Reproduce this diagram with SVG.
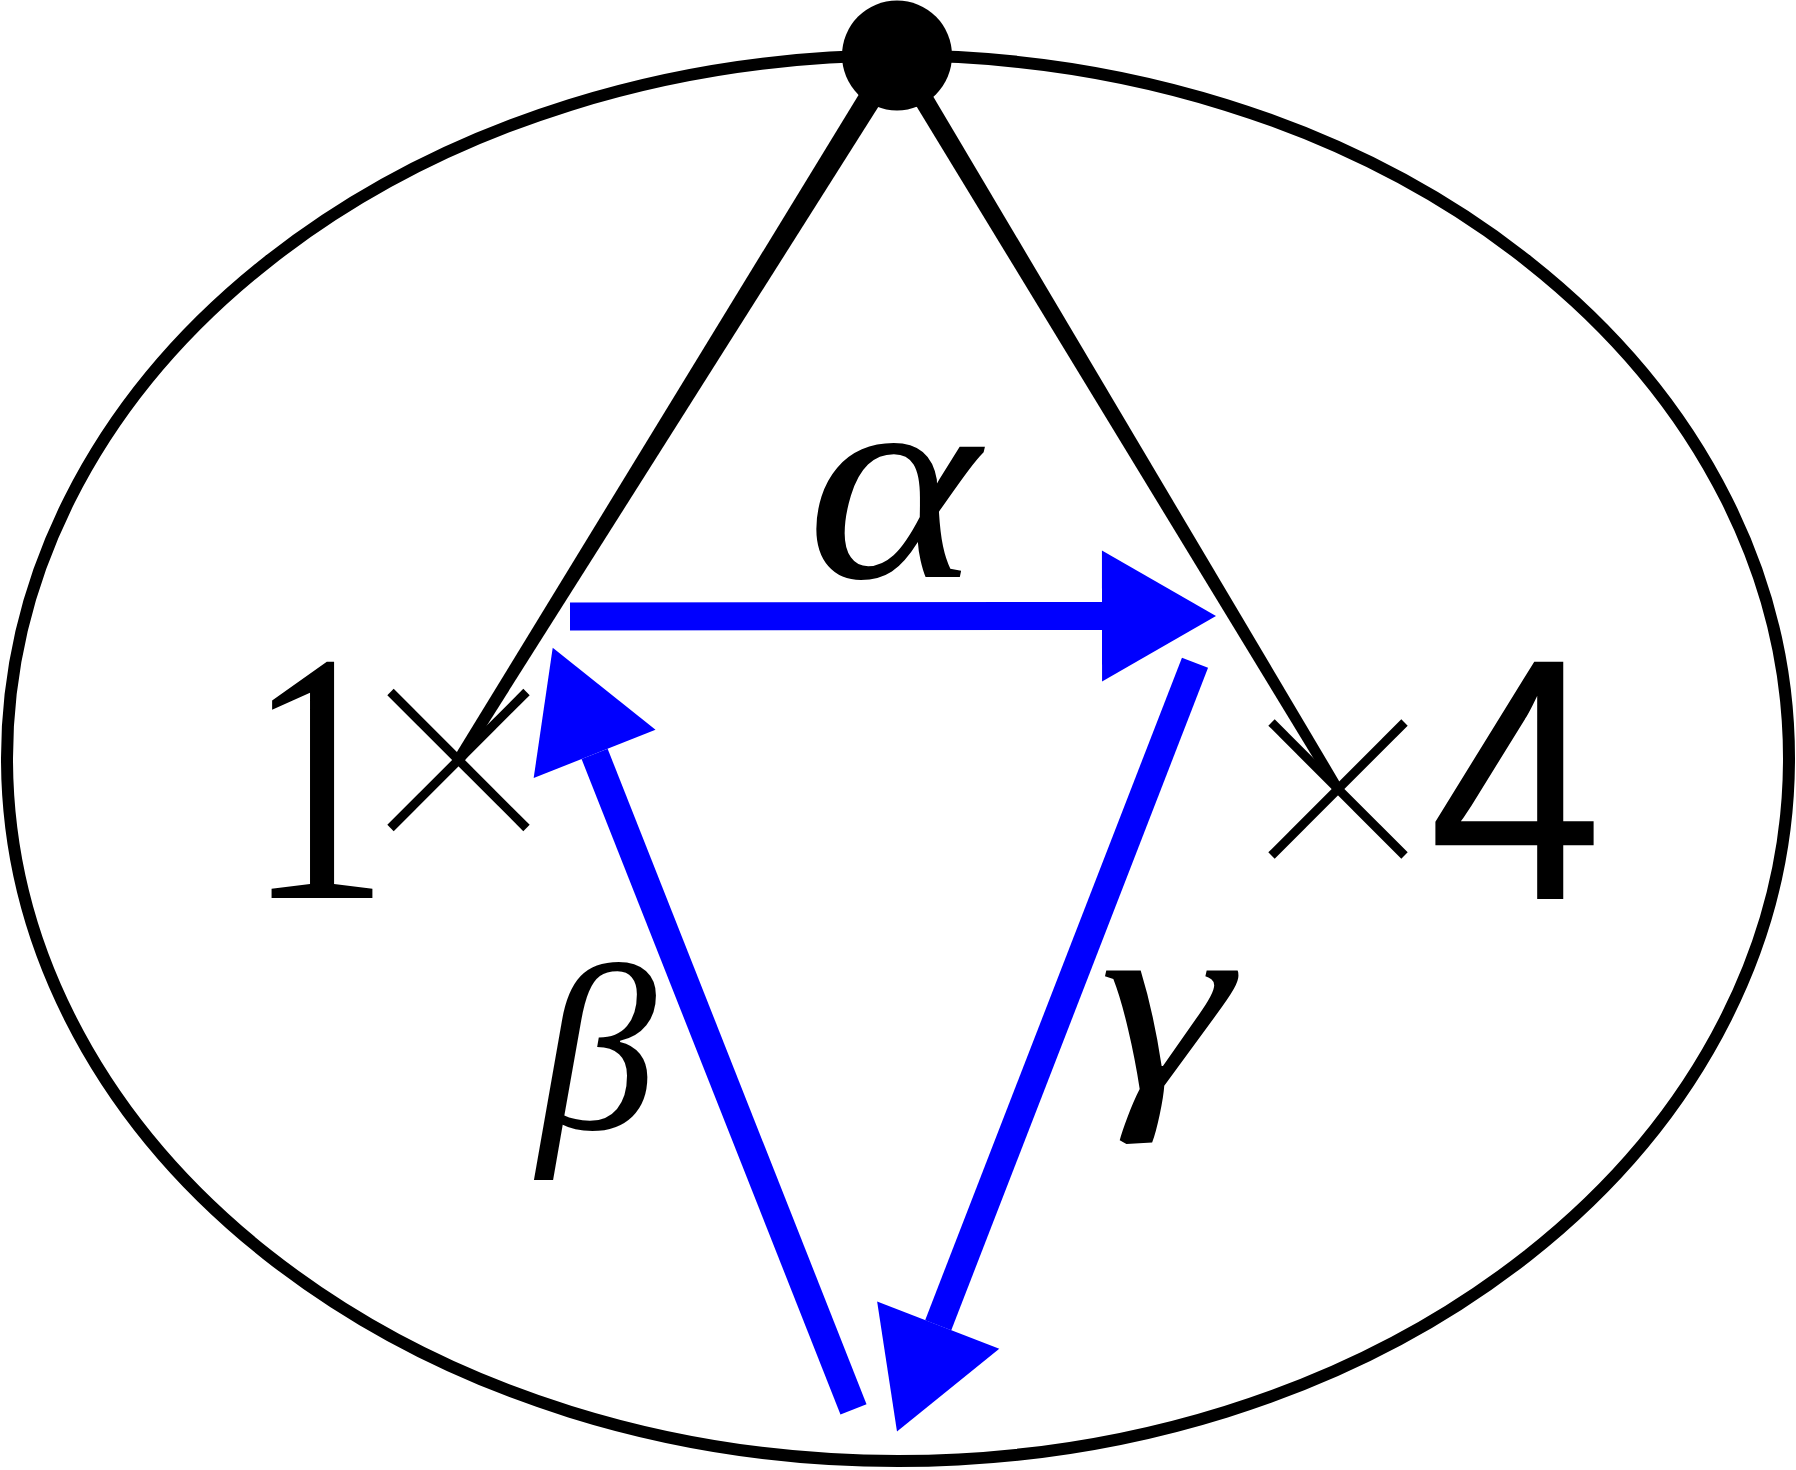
<svg xmlns="http://www.w3.org/2000/svg" width="1796" height="1470" viewBox="0 0 1796 1470">
<style>
.edge{fill:#000;stroke:none}
.cross{stroke:#000;stroke-width:9;stroke-linecap:butt;fill:none}
.arrow{stroke:#0000ff;stroke-width:28;stroke-linecap:butt;fill:none;marker-end:url(#ah)}
.greek{font-family:"Liberation Serif","Times New Roman",serif;font-style:italic;fill:#000}
</style>
<defs>
<marker id="ah" markerUnits="userSpaceOnUse" markerWidth="120" markerHeight="140" viewBox="0 -70 120 140" refX="0" refY="0" orient="auto" overflow="visible">
<path d="M0,-65.5 L114,0 L0,65.5 Z" fill="#0000ff"/>
</marker>
</defs>
<rect width="1796" height="1470" fill="#fff"/>
<g id="loop">
<ellipse cx="898" cy="758.3" rx="891" ry="702.7" fill="none" stroke="#000" stroke-width="12"/>
</g>
<g id="connectors">
<polygon class="edge" points="907.2,61.3 463.2,762.9 453.8,757.1 886.8,48.7"/>
<polygon class="edge" points="905.6,49.9 1342.3,786.4 1333.7,791.6 888.4,60.2"/>
<line class="arrow" x1="570" y1="616.5" x2="1102" y2="616"/>
<line class="arrow" x1="853.5" y1="1409.3" x2="594.6" y2="753.9"/>
<line class="arrow" x1="1195" y1="662.7" x2="938.2" y2="1325.2"/>
</g>
<g id="vertex">
<circle cx="897" cy="55.5" r="55" fill="#000"/>
</g>
<g id="cross1">
<line class="cross" x1="390.5" y1="692" x2="526.5" y2="828"/>
<line class="cross" x1="390.5" y1="828" x2="526.5" y2="692"/>
</g>
<g id="cross4">
<line class="cross" x1="1271.5" y1="722.5" x2="1404.5" y2="855.5"/>
<line class="cross" x1="1271.5" y1="855.5" x2="1404.5" y2="722.5"/>
</g>
<g id="label1">
<text transform="translate(318,898) scale(0.8,1)" font-family="'Liberation Serif','Times New Roman',serif" font-size="358" text-anchor="middle">1</text>
</g>
<g id="label4">
<text transform="translate(1515.5,899) scale(0.91,1)" font-family="'Liberation Sans',Arial,sans-serif" font-size="345" text-anchor="middle">4</text>
</g>
<g id="label-alpha">
<text class="greek" transform="translate(893,577) scale(1.16,1)" font-size="284" text-anchor="middle">α</text>
</g>
<g id="label-beta">
<text class="greek" x="597" y="1129" font-size="238" text-anchor="middle">β</text>
</g>
<g id="label-gamma">
<text class="greek" transform="translate(1165,1089) scale(1.3,1)" font-size="258" text-anchor="middle">γ</text>
</g>
</svg>
